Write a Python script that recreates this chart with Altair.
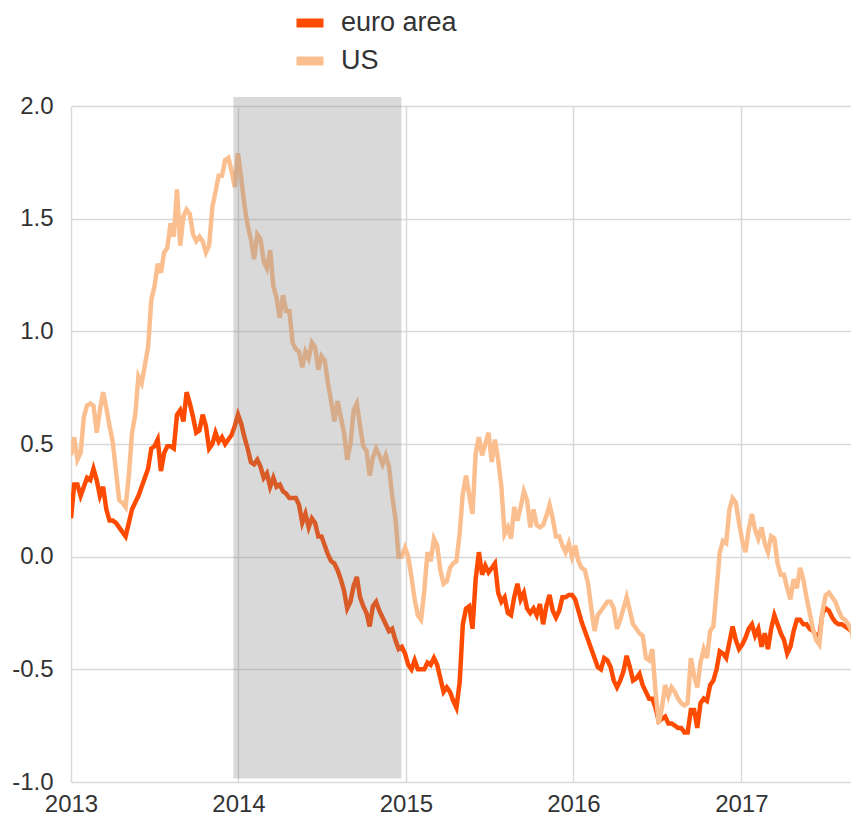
import altair as alt
import pandas as pd

series_names = ["euro area", "US"]
series_colors = ["#ff4b00", "#fbbf8f"]

start_date = "2013-01-01"  # weekly observations from this date

us_values = [
    0.45, 0.53, 0.43, 0.46, 0.62, 0.67, 0.68, 0.67, 0.55, 0.65,
    0.73, 0.66, 0.58, 0.51, 0.38, 0.25, 0.24, 0.22, 0.36, 0.55,
    0.63, 0.80, 0.77, 0.85, 0.93, 1.14, 1.20, 1.30, 1.26, 1.35,
    1.37, 1.48, 1.42, 1.63, 1.38, 1.51, 1.54, 1.52, 1.43, 1.40,
    1.42, 1.40, 1.35, 1.38, 1.55, 1.62, 1.69, 1.69, 1.76, 1.77,
    1.71, 1.64, 1.79, 1.68, 1.56, 1.47, 1.41, 1.32, 1.43, 1.41,
    1.31, 1.28, 1.36, 1.20, 1.15, 1.06, 1.16, 1.09, 1.09, 0.95,
    0.92, 0.91, 0.84, 0.91, 0.88, 0.95, 0.93, 0.83, 0.89, 0.87,
    0.77, 0.69, 0.60, 0.69, 0.62, 0.55, 0.43, 0.50, 0.65, 0.68,
    0.58, 0.49, 0.47, 0.36, 0.44, 0.48, 0.45, 0.41, 0.45, 0.40,
    0.27, 0.17, 0.00, 0.00, 0.04, 0.00, -0.09, -0.19, -0.26, -0.28,
    -0.15, 0.02, -0.02, 0.08, 0.05, -0.06, -0.12, -0.11, -0.05, -0.03,
    -0.02, 0.10, 0.28, 0.36, 0.27, 0.19, 0.46, 0.53, 0.45, 0.50,
    0.55, 0.42, 0.52, 0.43, 0.31, 0.10, 0.13, 0.08, 0.22, 0.16,
    0.22, 0.29, 0.25, 0.13, 0.21, 0.14, 0.13, 0.14, 0.18, 0.23,
    0.17, 0.09, 0.09, 0.05, 0.02, 0.06, 0.00, 0.05, -0.02, -0.05,
    -0.06, -0.12, -0.23, -0.33, -0.26, -0.24, -0.22, -0.20, -0.20, -0.23,
    -0.32, -0.28, -0.23, -0.18, -0.24, -0.30, -0.32, -0.34, -0.35, -0.45,
    -0.46, -0.41, -0.60, -0.74, -0.67, -0.57, -0.62, -0.58, -0.60, -0.63,
    -0.65, -0.66, -0.65, -0.45, -0.53, -0.58, -0.47, -0.41, -0.45, -0.33,
    -0.31, -0.15, 0.02, 0.07, 0.06, 0.21, 0.26, 0.24, 0.15, 0.07,
    0.02, 0.12, 0.19, 0.12, 0.08, 0.13, 0.06, 0.02, 0.09, 0.08,
    -0.03, -0.08, -0.08, -0.14, -0.19, -0.10, -0.14, -0.05, -0.10, -0.18,
    -0.25, -0.32, -0.37, -0.39, -0.24, -0.17, -0.16, -0.18, -0.20, -0.24,
    -0.27, -0.28, -0.30, -0.33, -0.40, -0.34,
]

ea_values = [
    0.17, 0.32, 0.32, 0.27, 0.31, 0.35, 0.34, 0.39, 0.34, 0.27,
    0.31, 0.21, 0.16, 0.16, 0.15, 0.13, 0.11, 0.09, 0.15, 0.21,
    0.24, 0.27, 0.31, 0.35, 0.39, 0.48, 0.49, 0.52, 0.38, 0.46,
    0.49, 0.49, 0.48, 0.63, 0.65, 0.60, 0.73, 0.68, 0.62, 0.55,
    0.56, 0.63, 0.58, 0.48, 0.50, 0.55, 0.51, 0.53, 0.50, 0.52,
    0.54, 0.58, 0.63, 0.59, 0.53, 0.48, 0.42, 0.41, 0.43, 0.40,
    0.35, 0.37, 0.31, 0.35, 0.31, 0.32, 0.29, 0.28, 0.26, 0.26,
    0.26, 0.23, 0.15, 0.19, 0.13, 0.17, 0.15, 0.09, 0.09, 0.05,
    0.01, -0.02, -0.03, -0.06, -0.10, -0.15, -0.23, -0.20, -0.13, -0.09,
    -0.18, -0.22, -0.25, -0.31, -0.22, -0.20, -0.24, -0.27, -0.30, -0.33,
    -0.32, -0.37, -0.41, -0.40, -0.43, -0.48, -0.50, -0.46, -0.50, -0.50,
    -0.50, -0.47, -0.48, -0.45, -0.48, -0.54, -0.60, -0.58, -0.60, -0.64,
    -0.67, -0.56, -0.30, -0.23, -0.22, -0.32, -0.10, 0.02, -0.08, -0.04,
    -0.07, -0.05, -0.03, -0.16, -0.20, -0.18, -0.25, -0.26, -0.18, -0.12,
    -0.19, -0.16, -0.23, -0.25, -0.23, -0.26, -0.21, -0.30, -0.22, -0.17,
    -0.24, -0.27, -0.24, -0.18, -0.18, -0.17, -0.17, -0.19, -0.24, -0.29,
    -0.33, -0.37, -0.41, -0.45, -0.49, -0.50, -0.45, -0.46, -0.49, -0.55,
    -0.58, -0.55, -0.51, -0.44, -0.49, -0.55, -0.54, -0.52, -0.57, -0.60,
    -0.63, -0.63, -0.67, -0.73, -0.72, -0.71, -0.74, -0.74, -0.75, -0.76,
    -0.76, -0.78, -0.78, -0.68, -0.68, -0.76, -0.65, -0.63, -0.64, -0.57,
    -0.55, -0.50, -0.42, -0.43, -0.45, -0.38, -0.31, -0.37, -0.41, -0.39,
    -0.36, -0.32, -0.30, -0.35, -0.32, -0.40, -0.34, -0.41, -0.32, -0.26,
    -0.30, -0.34, -0.37, -0.43, -0.40, -0.33, -0.28, -0.28, -0.30, -0.30,
    -0.32, -0.33, -0.35, -0.35, -0.25, -0.23, -0.24, -0.27, -0.29, -0.30,
    -0.30, -0.31, -0.32, -0.33, -0.28, -0.24,
]

# shaded period
shade_start = "2013-12-21"
shade_end = "2014-12-22"
shade_top = 2.04
shade_bottom = -0.985

year_ticks = [2013, 2014, 2015, 2016, 2017]
y_ticks = [-1.0, -0.5, 0.0, 0.5, 1.0, 1.5, 2.0]
y_domain = [-1.0, 2.0]

n = min(len(us_values), len(ea_values))
dates = list(pd.date_range(start_date, periods=n, freq="7D"))
df = pd.DataFrame({
    "date": dates + dates,
    "value": ea_values[:n] + us_values[:n],
    "series": [series_names[0]] * n + [series_names[1]] * n,
})

shade_df = pd.DataFrame({
    "start": [pd.Timestamp(shade_start)],
    "end": [pd.Timestamp(shade_end)],
    "top": [shade_top],
    "bottom": [shade_bottom],
})

FONT = "Liberation Sans"

x_scale = alt.Scale(domain=[alt.DateTime(year=2013, month=1, date=1),
                            alt.DateTime(year=2017, month=8, date=28)])
y_scale = alt.Scale(domain=y_domain, nice=False, zero=False)

x_enc = alt.X(
    "date:T", scale=x_scale, title=None,
    axis=alt.Axis(values=[alt.DateTime(year=y, month=1, date=1) for y in year_ticks],
                  format="%Y", labelFlush=False, labelOverlap=False, labelPadding=10),
)
y_enc = alt.Y(
    "value:Q", scale=y_scale, title=None,
    axis=alt.Axis(values=y_ticks, labelPadding=18, labelOverlap=False,
                  labelExpr="replace(format(datum.value, '.1f'), '\u2212', '-')"),
)
color_enc = alt.Color(
    "series:N",
    scale=alt.Scale(domain=series_names, range=series_colors),
    legend=alt.Legend(orient="none", legendX=221, legendY=-101, title=None,
                      symbolType="stroke", symbolSize=729, symbolStrokeWidth=9,
                      labelFontSize=27, labelFont=FONT, labelColor="#333333",
                      labelOffset=13, rowPadding=2, padding=0),
)

base = alt.Chart(df)
ea_line = base.transform_filter(alt.datum.series == series_names[0]).mark_line(
    strokeWidth=4.5, clip=True).encode(x=x_enc, y=y_enc, color=color_enc)
us_line = base.transform_filter(alt.datum.series == series_names[1]).mark_line(
    strokeWidth=4.5, clip=True).encode(x=x_enc, y=y_enc, color=color_enc)

shade = alt.Chart(shade_df).mark_rect(color="#808080", opacity=0.3).encode(
    x=alt.X("start:T", scale=x_scale),
    x2="end:T",
    y=alt.Y("top:Q", scale=y_scale),
    y2="bottom:Q",
)

chart = alt.layer(ea_line, us_line, shade).properties(
    width=780, height=676,
    padding={"left": 63, "top": 98, "right": 0, "bottom": 38},
    autosize=alt.AutoSizeParams(type="none"),
).configure_view(stroke=None).configure_axis(
    grid=True, gridColor="#d9d9d9", gridWidth=1.5, domain=False, ticks=False,
    labelFont=FONT, labelFontSize=24, labelColor="#333333",
)

chart.save("out.html", embed_options={"renderer": "svg", "actions": False})
